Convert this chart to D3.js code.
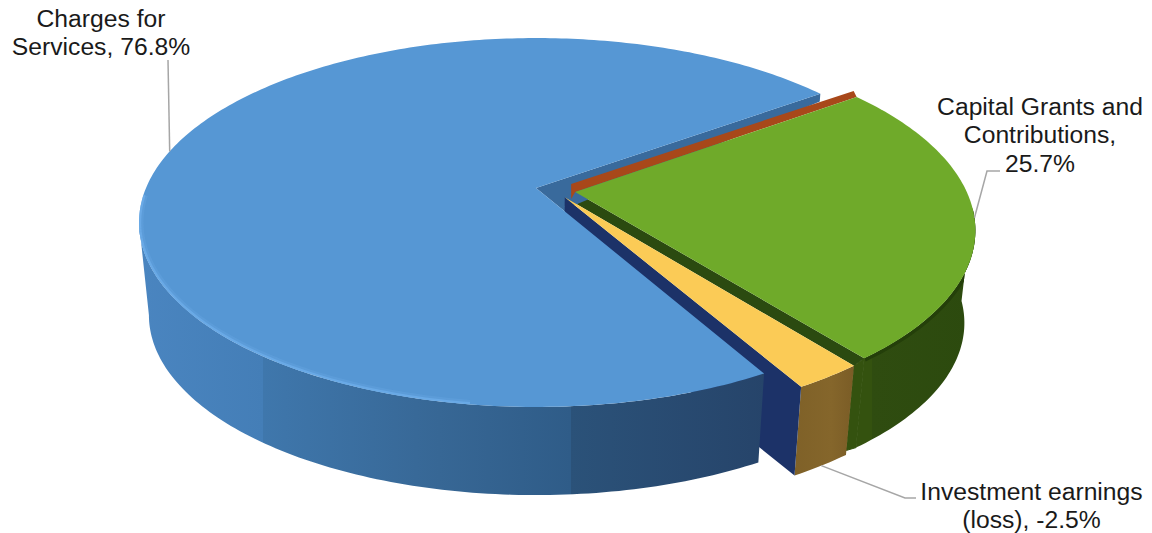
<!DOCTYPE html>
<html>
<head>
<meta charset="utf-8">
<script src="https://cdnjs.cloudflare.com/ajax/libs/d3/7.8.5/d3.min.js"></script>
<style>
html,body{margin:0;padding:0;background:#fff;}
svg{display:block;}
text{font-family:"Liberation Sans",Arial,sans-serif;font-size:24.7px;fill:#1a1a1a;text-anchor:middle;}
</style>
</head>
<body>
<svg id="chart" width="1152" height="533"></svg>
<script>
// Revenue shares; the second entry is a zero-width slice that only shows its cut face.
const categories = ["Charges for Services", "Other", "Capital Grants and Contributions", "Investment earnings (loss)"];
const shares = [76.8, 0, 25.7, -2.5];

const labelLines = [
  ["Charges for", "Services, 76.8%"],
  [],
  ["Capital Grants and", "Contributions,", "25.7%"],
  ["Investment earnings", "(loss), -2.5%"]
];

// Layout of the tilted disc
const tilt = 0.187;
const centerX = 536, radiusX = 390;
const topY = 188, radiusY = 178;
const depthDrop = 93.6, depthShrink = 0.025;
const rotation = 150.7 * Math.PI / 180;
const explode = [[0, 0], [0.1, 0.022], [0.1, 0.022], [0.073, 0.052]];

const svg = d3.select("#chart");
const defs = svg.append("defs");

const pie = d3.pie().sort(null).value(d => Math.abs(d))
  .startAngle(rotation).endAngle(rotation + 2 * Math.PI);
const slices = pie(shares);

const xScale = d3.scaleLinear().domain([-1, 1]).range([centerX - radiusX, centerX + radiusX]);
const yScale = d3.scaleLinear().domain([-1, 1]).range([topY - radiusY, topY + radiusY]);
const depthScale = d3.scaleLinear().domain([0, 1]).range([0, depthDrop]);

// Disc coordinates to screen, with t = 0 the top face and t = 1 the bottom face
function project(u, v, t = 0) {
  const w = 1 - tilt * v;
  const s = 1 - depthShrink * t;
  return [
    xScale(u * s / w),
    yScale(v * s / w) + depthScale(t)
  ];
}
function rim(i, a, t = 0, r = 1) {
  const [ox, oy] = explode[i];
  return project(ox + r * Math.sin(a), oy - r * Math.cos(a), t);
}
function apex(i, t = 0) { return rim(i, 0, t, 0); }
function arcPoints(i, a0, a1, t = 0) {
  const n = Math.max(2, Math.ceil(Math.abs(a1 - a0) * 60));
  return d3.range(n + 1).map(k => rim(i, a0 + (a1 - a0) * k / n, t));
}
const closed = d3.line().curve(d3.curveLinearClosed);
const open = d3.line();

function gradient(id, x0, x1, stops) {
  const g = defs.append("linearGradient").attr("id", id)
    .attr("gradientUnits", "userSpaceOnUse")
    .attr("x1", x0).attr("x2", x1).attr("y1", 0).attr("y2", 0);
  stops.forEach(([o, c]) => g.append("stop").attr("offset", o).attr("stop-color", c));
}
function clip(id, pts) {
  defs.append("clipPath").attr("id", id).append("path").attr("d", closed(pts));
}
gradient("blueWall", 138, 765, [[0, "#4a85c0"], [0.2, "#447eb7"], [0.2, "#3f77ac"], [0.48, "#376795"], [0.69, "#2f5c88"], [0.69, "#2b5279"], [1, "#26446a"]]);
gradient("greenWall", 850, 975, [[0, "#34520f"], [0.18, "#34520f"], [0.18, "#2f4c10"], [1, "#2c4a0e"]]);
gradient("brownWall", 795, 855, [[0, "#7f6128"], [0.6, "#85662b"], [1, "#7a5c26"]]);

const [blue, red, green, yellow] = slices;
const layer = svg.append("g");
const poly = (pts, fill) => layer.append("path").attr("d", closed(pts)).attr("fill", fill);
const sector = (i, s) => [apex(i), ...arcPoints(i, s.startAngle, s.endAngle)];

// Outer walls, back to front
const greenWallFrom = green.startAngle + 41 * Math.PI / 180;
const greenWallPts = [...arcPoints(2, greenWallFrom, green.endAngle, 0), ...arcPoints(2, green.endAngle, greenWallFrom, 1)];
clip("greenWallClip", greenWallPts);
poly(greenWallPts, "url(#greenWall)");
poly([rim(2, green.endAngle), rim(3, yellow.startAngle), rim(3, yellow.startAngle, 0.95), rim(2, green.endAngle, 1)], "#34520f")
  .attr("stroke", "#34520f").attr("stroke-width", 1);
layer.append("path").attr("d", open(arcPoints(2, greenWallFrom, green.endAngle)))
  .attr("clip-path", "url(#greenWallClip)")
  .attr("fill", "none").attr("stroke", "#243f0a").attr("stroke-width", 7);
poly([apex(2), rim(2, green.endAngle), rim(3, yellow.startAngle), apex(3)], "#2b4a10");
poly([...arcPoints(3, yellow.startAngle, yellow.endAngle, 0), ...arcPoints(3, yellow.endAngle, yellow.startAngle, 1)], "url(#brownWall)");

// Cut face of the main slice, seen through the gap
poly([apex(0), rim(0, blue.endAngle), rim(0, blue.endAngle, 0.08), apex(1, 0.14), apex(3, 0.1), rim(0, blue.startAngle, 0, 0.3)], "#396a9c");

// Cut face of the small slice
poly([apex(3), rim(3, yellow.endAngle), rim(3, yellow.endAngle, 1), apex(3, 1)], "#1c3268");

const blueWallTo = 259.2 * Math.PI / 180;
poly([...arcPoints(0, blue.startAngle, blueWallTo, 0), ...arcPoints(0, blueWallTo, blue.startAngle, 1)], "url(#blueWall)");

// Top faces, with a soft bevel along the lit part of the main rim
clip("blueTopClip", sector(0, blue));
poly(sector(0, blue), "#5697d4");
const bevel = open(arcPoints(0, blue.startAngle + 0.65, blueWallTo + 0.15));
[[9, 0.22], [4.5, 0.6]].forEach(([width, opacity]) => {
  layer.append("path").attr("d", bevel).attr("clip-path", "url(#blueTopClip)")
    .attr("fill", "none").attr("stroke", "#72b3ee")
    .attr("stroke-width", width).attr("stroke-opacity", opacity);
});

const redTip = rim(1, red.startAngle);
poly([[apex(1)[0] - 4, apex(1)[1] - 8], [redTip[0] - 3, redTip[1] - 6], redTip, apex(1), [apex(1)[0] - 4, apex(1)[1] + 7]], "#a8481a");
poly(sector(2, green), "#6faa2a");
poly(sector(3, yellow), "#fbcb56");

// Leader lines from the slice mid-angle to the label elbow
const leaders = [
  { from: rim(0, (blue.startAngle + blue.endAngle) / 2), via: [[168, 60]] },
  { from: rim(2, (green.startAngle + green.endAngle) / 2), via: [[987, 171], [1000, 171]] },
  { from: rim(3, (yellow.startAngle + yellow.endAngle) / 2, 1), via: [[905, 498], [916, 498]] }
];
svg.append("g").selectAll("path").data(leaders).join("path")
  .attr("d", d => open([d.from, ...d.via]))
  .attr("fill", "none").attr("stroke", "#a6a6a6").attr("stroke-width", 1.5);

// Category labels
const labelPos = [[101, 27], null, [1040, 115], [1031.5, 500]];
const lineStep = 28.3;
labelLines.forEach((lines, i) => {
  if (!lines.length) return;
  const [lx, ly] = labelPos[i];
  svg.append("text").attr("x", lx).attr("y", ly)
    .selectAll("tspan").data(lines).join("tspan")
    .attr("x", lx).attr("dy", (d, k) => k ? lineStep : 0).text(d => d);
});
</script>
</body>
</html>
